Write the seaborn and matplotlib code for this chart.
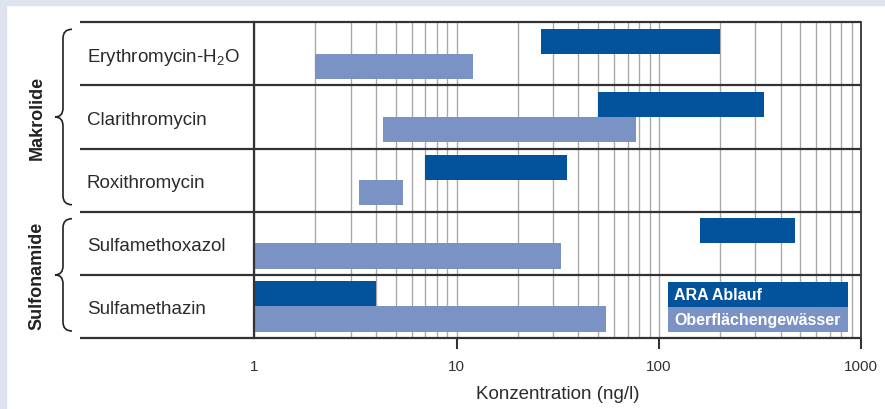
import numpy as np
import pandas as pd
import matplotlib
matplotlib.use("Agg")
import matplotlib.pyplot as plt
import matplotlib.transforms as mtransforms
from matplotlib.patches import Rectangle, PathPatch
from matplotlib.path import Path
import seaborn as sns

# ---------------- data ----------------
substances = ["Erythromycin-H$_2$O", "Clarithromycin", "Roxithromycin",
              "Sulfamethoxazol", "Sulfamethazin"]
groups = ["Makrolide", "Sulfonamide"]
group_sizes = [3, 2]
series = ["ARA Ablauf", "Oberflächengewässer"]
ara_low = [26, 50, 7, 160, 1]
ara_high = [200, 330, 35, 470, 4]
ow_low = [2, 4.3, 3.3, 1, 1]
ow_high = [12, 77, 5.4, 33, 55]
xticks = [1, 10, 100, 1000]
xticklabels = ["1", "10", "100", "1000"]
xlabel = "Konzentration (ng/l)"
colors = ["#03539c", "#7b92c4"]

df = pd.DataFrame({
    "Substanz": substances * 2,
    "Serie": [series[0]] * len(substances) + [series[1]] * len(substances),
    "low": ara_low + ow_low,
    "high": ara_high + ow_high,
})

# ---------------- style ----------------
sns.set_theme(style="white")
plt.rcParams["font.family"] = ["Liberation Sans", "DejaVu Sans"]
plt.rcParams["mathtext.default"] = "regular"

W, H = 885, 410
fig = plt.figure(figsize=(W / 100, H / 100), dpi=100)
fig.patch.set_facecolor("white")
bg = "#dde4f0"
fig.patches.append(Rectangle((0, 0), 6 / W, 1, transform=fig.transFigure,
                             color=bg, zorder=0))
fig.patches.append(Rectangle((0, 1 - 6 / H), 1, 6 / H, transform=fig.transFigure,
                             color=bg, zorder=0))

x0, x1, ytop, ybot = 254.5, 861.0, 23.3, 339.0
ax = fig.add_axes([x0 / W, 1 - ybot / H, (x1 - x0) / W, (ybot - ytop) / H])
ax.set_facecolor("none")

sns.barplot(data=df, y="Substanz", x="high", hue="Serie", orient="h",
            palette=colors, saturation=1, width=0.8, dodge=True,
            errorbar=None, legend=False, linewidth=0, ax=ax)

lows = [ara_low, ow_low]
highs = [ara_high, ow_high]
for cont, lo_list, hi_list in zip(ax.containers, lows, highs):
    for bar, lo, hi in zip(cont, lo_list, hi_list):
        bar.set_x(lo)
        bar.set_width(hi - lo)
        bar.set_zorder(3)

ax.set_xscale("log")
ax.set_xlim(xticks[0], xticks[-1])
ax.set_ylim(len(substances) - 0.5, -0.5)

# grid
ax.xaxis.grid(True, which="both", color="#a9a9a9", linewidth=1.0)
ax.yaxis.grid(False)
ax.set_axisbelow(True)

ax.set_xticks(xticks)
ax.set_xticklabels(xticklabels)
ax.tick_params(axis="x", which="minor", length=0, bottom=False)
ax.tick_params(axis="x", which="major", bottom=True, length=8, width=1.5,
               color="#333333", direction="out", pad=7, labelsize=11,
               labelcolor="#333333")
ax.xaxis.get_major_ticks()[0].tick1line.set_visible(False)

ax.set_yticks(range(len(substances)))
ax.set_yticklabels(substances, ha="left", fontsize=13.5, color="#2b2b2b")
ax.tick_params(axis="y", length=0, pad=(x0 - 87) * 0.72)
ax.set_ylabel("")
ax.set_xlabel(xlabel, fontsize=13.5, color="#2b2b2b", labelpad=9)

for s in ["top", "bottom"]:
    ax.spines[s].set_visible(False)
for s, lw in [("left", 1.6), ("right", 1.3)]:
    ax.spines[s].set_visible(True)
    ax.spines[s].set_color("#333333")
    ax.spines[s].set_linewidth(lw)
    ax.spines[s].set_zorder(5)

# horizontal separators extending into the label column
left_frac = (80 - x0) / (x1 - x0)
ytr = ax.get_yaxis_transform()
for yb in np.arange(-0.5, len(substances), 1.0):
    ax.plot([left_frac, 1.0], [yb, yb], transform=ytr, color="#333333",
            lw=1.6, clip_on=False, solid_capstyle="butt", zorder=6)

# group labels and braces
def data_to_pix_y(y):
    return ax.transData.transform((1, y))[1]

start = 0
for g, n in zip(groups, group_sizes):
    idx = np.arange(start, start + n)
    mid = idx.mean()
    ax.text((37 - x0) / (x1 - x0), mid, g, transform=ytr, rotation=90,
            ha="center", va="center", fontsize=13, fontweight="bold",
            color="#222222", clip_on=False)
    ytop_pix = data_to_pix_y(start - 0.5) - 7
    ybot_pix = data_to_pix_y(start + n - 0.5) + 7
    ym = data_to_pix_y(mid)
    xs, xt, xe, r = 63.0, 55.0, 72.0, 9.0
    verts = [(xe, ytop_pix), (xs, ytop_pix), (xs, ytop_pix - r),
             (xs, ym + r), (xs, ym), (xt, ym),
             (xs, ym), (xs, ym - r),
             (xs, ybot_pix + r), (xs, ybot_pix), (xe, ybot_pix)]
    codes = [Path.MOVETO, Path.CURVE3, Path.CURVE3,
             Path.LINETO, Path.CURVE3, Path.CURVE3,
             Path.CURVE3, Path.CURVE3,
             Path.LINETO, Path.CURVE3, Path.CURVE3]
    fig.add_artist(PathPatch(Path(verts, codes), facecolor="none",
                             edgecolor="#222222", lw=1.2,
                             transform=mtransforms.IdentityTransform()))
    start += n

# legend (colored boxes with white text)
lx0 = (668 - x0) / (x1 - x0)
lw_ = (848 - 668) / (x1 - x0)
lh = 25 / (ybot - ytop)
lyb = (ybot - 333) / (ybot - ytop)
for i, (name, col) in enumerate(zip(series, colors)):
    yb = lyb + (len(series) - 1 - i) * lh
    ax.add_patch(Rectangle((lx0, yb), lw_, lh, transform=ax.transAxes,
                           facecolor=col, edgecolor="none", zorder=7,
                           clip_on=False))
    ax.text(lx0 + 6 / (x1 - x0), yb + lh / 2, name, transform=ax.transAxes,
            ha="left", va="center", color="white", fontsize=11.5,
            fontweight="bold", zorder=8)

fig.savefig("out.png", dpi=100)
